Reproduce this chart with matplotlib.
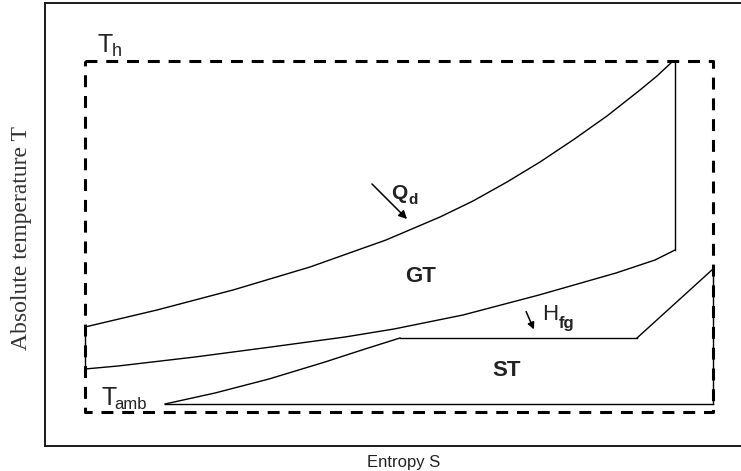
import numpy as np
import matplotlib
matplotlib.use('Agg')
import matplotlib.pyplot as plt

plt.rcParams['font.family'] = ['Liberation Sans', 'DejaVu Sans']

# T-S diagram, arbitrary units (entropy S, temperature T)
T_h = 385
T_amb = 34
S_min, S_max = 40, 668

# gas turbine upper curve (heat addition Q_d)
gt_top_S = [40, 112, 188, 265, 341, 395, 428, 462, 495, 528, 562, 595, 612, 628]
gt_top_T = [119, 136, 156, 179, 206, 229, 245, 264, 284, 306, 330, 356, 370, 385]
# turbine expansion end
gt_exp_S = [628, 630, 630]
gt_exp_T = [385, 385, 196]
# gas turbine exhaust / lower curve
gt_low_S = [40, 73, 150, 226, 300, 349, 418, 494, 571, 610, 630]
gt_low_T = [77, 80, 89, 99, 109, 117, 131, 151, 173, 186, 196]
gt_left_S = [40, 40]
gt_left_T = [77, 119]

# steam turbine cycle
st_liq_S = [120, 170, 224, 280, 320, 355]
st_liq_T = [42, 53, 67, 84, 97, 108]
st_sat_S = [355, 592]
st_sat_T = [108, 108]
st_sup_S = [592, 668]
st_sup_T = [108, 177]
st_exp_S = [668, 668]
st_exp_T = [177, 42]
st_cond_S = [120, 668]
st_cond_T = [42, 42]

fig = plt.figure(figsize=(7.41, 4.71), dpi=100)
ax = fig.add_axes([45/741, 25/471, 696/741, 443/471])
ax.set_xlim(0, 696)
ax.set_ylim(0, 443)
ax.set_xticks([])
ax.set_yticks([])
ax.spines['right'].set_visible(False)
for s in ['left', 'top', 'bottom']:
    ax.spines[s].set_linewidth(1.4)
    ax.spines[s].set_color('#1a1a1a')

# dashed Carnot box
ax.plot([S_min, S_max, S_max, S_min, S_min], [T_h, T_h, T_amb, T_amb, T_h],
        color='black', lw=2.2, linestyle=(0, (3.9, 2.9)))

lw = 1.0
for xs, ys in [(gt_top_S, gt_top_T), (gt_exp_S, gt_exp_T), (gt_low_S, gt_low_T),
               (gt_left_S, gt_left_T), (st_liq_S, st_liq_T), (st_sat_S, st_sat_T),
               (st_sup_S, st_sup_T), (st_exp_S, st_exp_T), (st_cond_S, st_cond_T)]:
    ax.plot(xs, ys, color='black', lw=lw)

# labels
txt = '#222222'
ax.text(52, 394, 'T', fontsize=18, color=txt)
ax.text(67, 390, 'h', fontsize=13, color=txt)
ax.text(56, 41, 'T', fontsize=18, color=txt)
ax.text(69, 37, 'amb', fontsize=12, color=txt)
ax.text(346, 247, 'Q', fontsize=15, fontweight='bold', color=txt)
ax.text(363, 242, 'd', fontsize=11, fontweight='bold', color=txt)
ax.text(376, 169, 'GT', fontsize=16, fontweight='bold', color=txt, ha='center', va='center')
ax.text(497, 126, 'H', fontsize=16, color=txt)
ax.text(514, 118, 'fg', fontsize=12, fontweight='bold', color=txt)
ax.text(462, 75, 'ST', fontsize=16, fontweight='bold', color=txt, ha='center', va='center')

ax.annotate('', xy=(364, 225), xytext=(325, 264),
            arrowprops=dict(arrowstyle='-|>', color='black', lw=1.1, mutation_scale=12))
ax.annotate('', xy=(490, 114), xytext=(480, 137),
            arrowprops=dict(arrowstyle='-|>', color='black', lw=1.1, mutation_scale=10))

fig.text(404/741, 1 - 462/471, 'Entropy S', fontsize=12, color=txt,
         ha='center', va='center')
fig.text(22/741, 1 - 238/471, 'Absolute temperature T', fontsize=17, color='#333333',
         family='Liberation Serif', rotation=90, ha='center', va='center')

fig.savefig('out.png', dpi=100)
